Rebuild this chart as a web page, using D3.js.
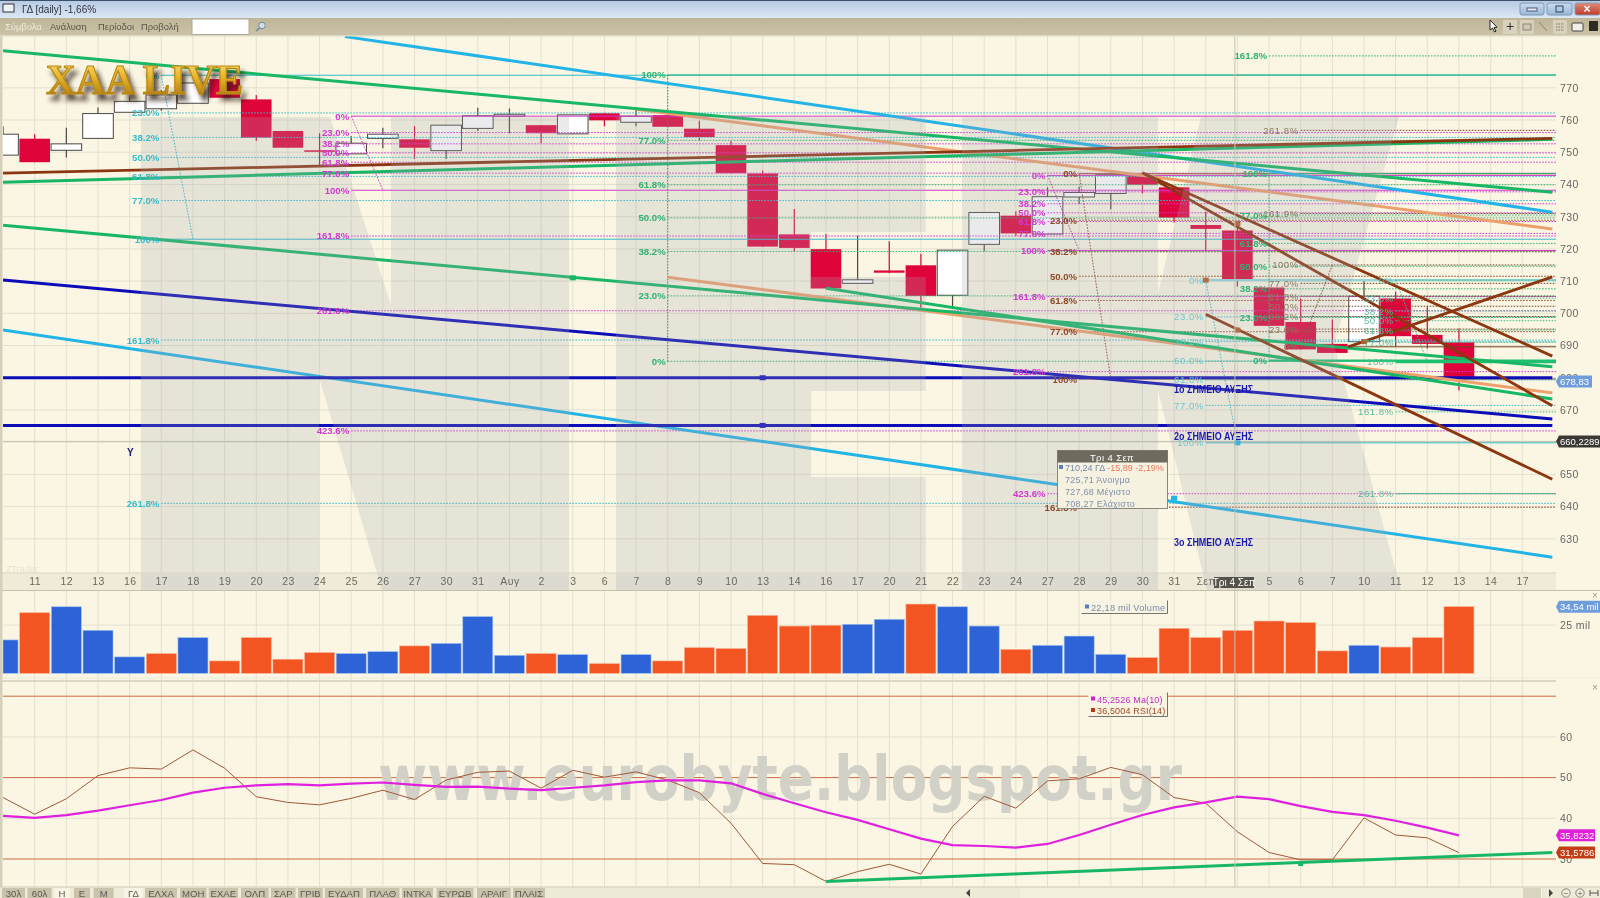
<!DOCTYPE html>
<html><head><meta charset="utf-8">
<style>html,body{margin:0;padding:0;background:#faf6e3;overflow:hidden}svg{display:block;filter:blur(0.35px)}text{font-family:"Liberation Sans",Arial,sans-serif}</style>
<script src="https://cdnjs.cloudflare.com/ajax/libs/d3/7.8.5/d3.min.js"></script>
</head><body><svg id="c" width="1600" height="898"></svg>
<script>
// ---- categories / ticks
const dateLabels=["11","12","13","16","17","18","19","20","23","24","25","26","27","30","31","Αυγ","2","3","6","7","8","9","10","13","14","16","17","20","21","22","23","24","27","28","29","30","31","Σεπ","4","5","6","7","10","11","12","13","14","17"];
const priceTicks=[770,760,750,740,730,720,710,700,690,680,670,660,650,640,630];
const rsiTicks=[60,50,40,30];
// ---- candles, first value belongs to the partial session at the left edge (index -1)
const candleOpen =[749.1,754.2,750.6,754.3,762.4,763.5,765.2,772.7,766.4,756.6,750.6,749.5,754.3,754.0,750.5,757.4,761.2,758.4,755.7,762.1,759.3,761.5,757.3,752.2,743.4,724.5,719.9,709.3,713.3,714.9,705.6,721.4,730.3,724.6,736.1,737.2,742.6,739.1,727.4,725.7,708.0,697.3,690.5,691.2,704.6,693.3,691.0];
const candleClose=[755.6,746.9,752.6,762.0,765.8,767.8,771.5,766.9,754.5,751.4,750.2,752.8,755.6,751.4,758.4,761.3,761.8,755.9,761.6,759.9,761.2,757.9,754.7,743.5,720.7,720.3,707.7,710.4,712.6,705.4,719.6,731.3,724.8,736.2,737.5,743.0,739.9,729.7,726.2,710.2,696.1,688.8,687.7,705.3,692.9,690.5,679.5];
const candleHigh =[758.1,755.6,757.6,763.9,767.2,769.3,771.5,772.7,767.8,756.6,755.9,755.0,757.6,758.1,758.4,763.8,763.6,758.4,761.6,762.1,763.6,762.3,759.8,753.5,744.3,732.4,724.6,724.1,722.4,718.5,719.6,731.3,731.7,739.1,739.3,743.0,743.4,739.1,731.5,727.7,708.0,704.6,698.1,710.3,706.7,702.0,695.3];
const candleLow  =[749.1,746.9,748.4,754.3,762.4,762.9,765.2,766.9,753.5,751.4,745.8,749.5,751.2,747.9,747.9,756.6,755.9,752.8,755.7,758.1,758.1,757.9,753.7,743.5,720.7,719.1,707.7,709.3,712.4,701.7,701.5,719.3,724.0,724.6,733.9,732.3,737.2,728.2,719.1,708.3,696.1,688.8,687.7,691.2,689.6,689.1,676.0];
// ---- volume (millions) and oscillator values
const volumeValues=[17.3,31.4,34.5,22.3,8.5,10.2,18.5,6.4,18.5,7.3,10.7,10.2,11.2,14.2,15.5,29.4,9.3,10.2,9.7,5.0,9.7,6.4,13.3,12.8,30.0,24.5,24.9,25.4,28.0,35.9,34.5,24.5,12.4,14.5,19.3,9.8,8.1,23.3,18.5,22.18,27.1,26.3,11.6,14.5,13.6,18.5,34.54];
const volumeRising=[1,0,1,1,1,0,1,0,0,0,0,1,1,0,1,1,1,0,1,0,1,0,0,0,0,0,0,1,1,0,1,1,0,1,1,1,0,0,0,0,0,0,0,1,0,0,0];
const rsiValues=[45.1,41.0,44.8,50.5,52.4,52.1,56.8,52.3,45.3,43.9,43.3,44.9,46.9,44.6,49.4,51.3,51.6,47.4,51.8,50.1,51.4,49.4,46.3,38.8,28.9,28.6,24.5,26.9,28.7,26.3,38.0,45.4,42.5,49.2,49.7,52.5,50.7,45.1,43.7,36.7,31.6,29.8,29.8,40.1,35.9,35.2,31.58];
const maValues=[40.6,40.1,40.8,41.9,43.2,44.5,46.3,47.5,48.1,48.4,48.1,48.5,48.8,48.2,47.7,47.8,47.3,46.9,47.5,48.1,48.9,49.3,49.3,48.6,46.0,43.7,41.5,39.6,37.3,35.0,33.4,33.2,32.8,33.7,35.9,38.4,40.8,42.7,43.9,45.3,44.7,43.0,41.6,40.8,39.4,37.7,35.82];
// ---- trend lines: [index1, price1, index2, price2]
const greenTrends=[[-1,781.5,47.95,737.6],[-1,740.7,47.95,754.0],[-1,727.3,47.95,683.4],[25,707.8,47.95,673.4]];
const cyanTrends=[[9.8,785.9,47.95,731.4],[-1,694.8,47.95,624.3]];
const salmonTrends=[[19,763.3,47.95,726.2],[20,711.2,47.95,675.3]];
const blueTrends=[[-1,710.3,47.95,667.2],[-1,680,47.95,680],[-1,665.2,47.95,665.2]];
const brownTrends=[[-1,743.5,47.95,754.3],[35,743.6,47.95,686.7],[35,743.6,47.95,671.3],[37,699.7,47.95,648.5],[41.5,689.6,47.95,711.3]];
const rsiTrend=[[25,24.5,47.95,31.6]];
// ---- fibonacci sets
const fibCyanL=[["0%",773.9],["23.0%",762.2],["38.2%",754.6],["50.0%",748.4],["61.8%",742.5],["77.0%",735],["100%",723],["161.8%",691.7],["261.8%",641]];
const fibMagentaL=[["0%",761.2],["23.0%",756.1],["38.2%",752.6],["50.0%",749.8],["61.8%",746.9],["77.0%",743.5],["100%",738.2],["161.8%",724],["261.8%",700.8],["423.6%",663.5]];
const fibGreenL=[["100%",774],["77.0%",753.7],["61.8%",739.9],["50.0%",729.6],["38.2%",719.2],["23.0%",705.4],["0%",685.1]];
const fibMagentaM=[["0%",742.8],["23.0%",737.7],["38.2%",734],["50.0%",731.2],["61.8%",728.5],["77.0%",724.8],["100%",719.5],["161.8%",705.2],["261.8%",681.9],["423.6%",644]];
const fibBrownM=[["0%",743.3],["23.0%",728.9],["38.2%",719.1],["50.0%",711.5],["61.8%",704],["77.0%",694.3],["100%",679.6],["161.8%",639.8]];
const fibCyanR=[["0%",710.3],["23.0%",698.9],["38.2%",691.2],["50.0%",685.2],["61.8%",679.3],["77.0%",671.4],["100%",659.8]];
const fibGreenR=[["161.8%",779.9],["100%",743.4],["77.0%",730.5],["61.8%",721.7],["50.0%",714.6],["38.2%",707.6],["23.0%",698.7],["0%",685.3]];
const fibBrownR=[["261.8%",756.8],["161.9%",731],["100%",715],["77.0%",709.3],["61.8%",705.3],["50.0%",702.2],["38.2%",699],["23.0%",695.1],["0%",689.6]];
const fibTealR=[["0%",710.3],["23.0%",704.7],["38.2%",700.7],["50.0%",697.7],["61.8%",694.8],["77.0%",691],["100%",684.9],["161.8%",669.4],["261.8%",644]];
const tabs=["30λ","60λ","Η","Ε","Μ","ΓΔ","ΕΛΧΑ","ΜΟΗ","ΕΧΑΕ","ΟΛΠ","ΣΑΡ","ΓΡΙΒ","ΕΥΔΑΠ","ΠΛΑΘ","ΙΝΤΚΑ","ΕΥΡΩΒ","ΑΡΑΙΓ","ΠΛΑΙΣ"];
const menuItems=["Σύμβολα","Ανάλυση","Περίοδοι","Προβολή"];
const signals=[["1ο ΣΗΜΕΙΟ ΑΥΞΗΣ",675.2],["2ο ΣΗΜΕΙΟ ΑΥΞΗΣ",660.8],["3ο ΣΗΜΕΙΟ ΑΥΞΗΣ",627.7]];
const tooltipRows=[["725,71 Άνοιγμα"],["727,68 Μέγιστο"],["708,27 Ελάχιστο"]];

// ---- drawing
const svg=d3.select("#c");
const defs=svg.append("defs");
const grad=(id,stops,vert=true)=>{const g=defs.append("linearGradient").attr("id",id).attr("x1",0).attr("y1",0).attr("x2",vert?0:1).attr("y2",vert?1:0);stops.forEach(s=>g.append("stop").attr("offset",s[0]).attr("stop-color",s[1]));};
grad("title",[[0,"#b4c9e2"],[1,"#dbe7f4"]]);
grad("menu",[[0,"#bfb698"],[1,"#cbc3a8"]]);
grad("gold",[[0,"#ffe88a"],[.45,"#e7b52c"],[1,"#9a6a10"]]);
grad("close",[[0,"#e08a7a"],[1,"#c03a28"]]);
grad("btn",[[0,"#c9dcef"],[1,"#98b6d6"]]);
const sh=defs.append("filter").attr("id","shadow").attr("x","-10%").attr("y","-20%").attr("width","125%").attr("height","160%");
sh.append("feDropShadow").attr("dx",4).attr("dy",6).attr("stdDeviation",2.6).attr("flood-color","#2a1c08").attr("flood-opacity",.8);
defs.append("clipPath").attr("id","pane").append("rect").attr("x",3).attr("y",36).attr("width",1553).attr("height",537);
defs.append("clipPath").attr("id","rsiPane").append("rect").attr("x",3).attr("y",682).attr("width",1553).attr("height",205);

const x=d3.scaleLinear().domain([0,47]).range([34.7,1522.25]);
const y=d3.scaleLinear().domain([630,770]).range([538.8,87.8]);
const yVol=d3.scaleLinear().domain([0,34.54]).range([673.3,606.7]);
const yRsi=d3.scaleLinear().domain([30,70]).range([859,696.2]);
const idxs=d3.range(-1,46);
const gridC="#e4e0cf";

svg.append("rect").attr("width",1600).attr("height",898).attr("fill","#faf6e3");
// panes' grid
const grid=svg.append("g").attr("stroke",gridC).attr("stroke-width",1);
dateLabels.forEach((_,i)=>{grid.append("line").attr("x1",x(i)).attr("x2",x(i)).attr("y1",36).attr("y2",887);});
priceTicks.forEach(v=>grid.append("line").attr("x1",3).attr("x2",1556).attr("y1",y(v)).attr("y2",y(v)));
grid.append("line").attr("x1",3).attr("x2",1556).attr("y1",yVol(25)).attr("y2",yVol(25));
[60,40].forEach(v=>grid.append("line").attr("x1",3).attr("x2",1556).attr("y1",yRsi(v)).attr("y2",yRsi(v)));

const main=svg.append("g").attr("clip-path","url(#pane)");
// candles
const cg=main.append("g");
idxs.forEach((i,k)=>{
  const o=candleOpen[k],c=candleClose[k],up=c>=o;
  const col=up?"#4a4844":"#d8083e";
  cg.append("line").attr("x1",x(i)).attr("x2",x(i)).attr("y1",y(candleHigh[k])).attr("y2",y(candleLow[k])).attr("stroke",col).attr("stroke-width",1.2);
  cg.append("rect").attr("x",x(i)-15.3).attr("width",30.6).attr("y",y(Math.max(o,c))).attr("height",Math.max(1.5,Math.abs(y(o)-y(c))))
    .attr("fill",up?"#ffffff":"#e0043c").attr("stroke",up?"#4a4844":"none").attr("stroke-width",1);
});
// fibonacci levels
const line=d3.line().x(d=>x(d[0])).y(d=>y(d[1]));
const fibG=main.append("g"),fibL=main.append("g");
function fib(set,anchor,color,opts={}){
  const endI=48.1;
  set.forEach(([t,v])=>{
    const solid=(opts.solid||[]).includes(t),thick=(opts.thick||[]).includes(t);
    fibG.append("line").attr("x1",x(anchor)).attr("x2",x(endI)).attr("y1",y(v)).attr("y2",y(v))
      .attr("stroke",thick?(opts.thickColor||color):color).attr("stroke-width",thick?2.4:1).attr("stroke-dasharray",solid||thick?null:"1.6,1.4");
    fibL.append("text").attr("x",x(anchor)-2).attr("y",y(v)+3.5).attr("text-anchor","end").attr("font-size",9.6).attr("font-weight",opts.light?"normal":"bold").attr("letter-spacing",opts.light?.5:0).attr("fill",opts.textColor||color).text(t);
  });
  if(opts.diag) fibG.append("path").attr("d",line(opts.diag)).attr("fill","none").attr("stroke",opts.diagColor||color).attr("stroke-width",1).attr("stroke-dasharray","1.6,1.4");
}
const val=(s,t)=>s.find(d=>d[0]===t)[1];
fib(fibCyanL,4,"#33bccb",{solid:["0%","100%"],diag:[[4,val(fibCyanL,"0%")],[5,val(fibCyanL,"100%")]]});
fib(fibMagentaL,10,"#d238cf",{solid:["0%","100%"],diag:[[10,val(fibMagentaL,"0%")],[11,val(fibMagentaL,"100%")]]});
fib(fibGreenL,20,"#2bb36f",{solid:["100%"],diag:[[20,val(fibGreenL,"100%")],[20,val(fibGreenL,"0%")]],diagColor:"#1c8f57"});
fib(fibMagentaM,32,"#d238cf",{solid:["0%","100%"],diag:[[32,val(fibMagentaM,"0%")],[33,val(fibMagentaM,"100%")]],diagColor:"#a0408a"});
fib(fibBrownM,33,"#8f4a28",{solid:["0%","100%"],diag:[[33,val(fibBrownM,"0%")],[34,val(fibBrownM,"100%")]]});
fib(fibCyanR,37,"#3cbcc6",{light:true,textColor:"#6cc8cf",thick:["0%"],thickColor:"#92d6d8",solid:["100%"],diag:[[37,val(fibCyanR,"0%")],[38,val(fibCyanR,"100%")]]});
fib(fibGreenR,39,"#2bb36f",{solid:["100%"],diag:[[39,val(fibGreenR,"100%")],[39,val(fibGreenR,"0%")]],thick:["0%"],thickColor:"#1fc070"});
fib(fibBrownR,40,"#6e4526",{light:true,textColor:"#8a7a62",solid:["0%"],diag:[[41,val(fibBrownR,"100%")],[40,val(fibBrownR,"0%")]]});
fib(fibTealR,43,"#44b98a",{light:true,textColor:"#5cb99c",thick:["100%"],thickColor:"#1fc070",solid:["261.8%"],diag:[[43,val(fibTealR,"0%")],[44,val(fibTealR,"100%")]]});
// crosshair horizontal
main.append("line").attr("x1",3).attr("x2",1556).attr("y1",y(660.23)).attr("y2",y(660.23)).attr("stroke","#c4c2b0");
// trend lines
const trend=(arr,color,w)=>arr.forEach(t=>main.append("path").attr("d",line([[t[0],t[1]],[t[2],t[3]]])).attr("stroke",color).attr("stroke-width",w).attr("fill","none"));
trend(cyanTrends,"#22b4e6",3);
trend(blueTrends,"#0c0cb8",3);
trend(salmonTrends,"#eca06c",3);
trend(greenTrends,"#17b765",3);
trend(brownTrends,"#8c3610",2.8);
// anchor markers
const marks=(arr,color)=>arr.forEach(m=>main.append("rect").attr("x",x(m[0])-3).attr("y",y(m[1])-2.5).attr("width",6).attr("height",5).attr("fill",color));
marks([[17,711]],"#17b765");marks([[23,680],[23,665.2]],"#1212bc");marks([[36,642.6],[38,659.8]],"#22b4e6");marks([[37,710.3],[38,727.9],[38,694.8],[42,691.2]],"#b0602c");
// watermark letters (semi-transparent, above the marks)
const wm=main.append("g").attr("fill","rgb(163,163,179)").attr("fill-opacity",.23);
const wmTop=117,wmBot=590;
const letters=[
 [[141,wmTop],[330,wmTop],[391,305],[391,wmTop],[569,wmTop],[569,wmBot],[382,wmBot],[319,377],[319,wmBot],[141,wmBot]],
 [[616,wmTop],[925.7,wmTop],[925.7,232],[811,232],[811,277],[925.7,277],[925.7,391],[811,391],[811,477],[925.7,477],[925.7,wmBot],[616,wmBot]],
 [[962,wmTop],[1158,wmTop],[1158,293],[1201,wmTop],[1399,wmTop],[1334,345],[1401,wmBot],[1207,wmBot],[1158,390],[1158,wmBot],[962,wmBot]]
];
wm.selectAll("path").data(letters).join("path").attr("d",d=>"M"+d.join("L")+"Z");
// fib labels go on top of candles
main.node().appendChild(fibL.node());
// signal text
signals.forEach(s=>main.append("text").attr("x",x(36)).attr("y",y(s[1])).attr("textLength",79).attr("lengthAdjust","spacingAndGlyphs").attr("font-size",10).attr("font-weight","bold").attr("fill","#1818b0").text(s[0]));
main.append("text").attr("x",127).attr("y",456).attr("font-size",10).attr("font-weight","bold").attr("fill","#1a1a70").text("Y");
main.append("text").attr("x",6).attr("y",572).attr("font-size",9).attr("fill","#e6e2cf").text("ZTrader");

// date band
const band=svg.append("g");
band.append("rect").attr("x",0).attr("y",573).attr("width",1556).attr("height",17).attr("fill","#efebd8");
const wmBand=band.append("g").attr("fill","rgb(163,163,179)").attr("fill-opacity",.23);
const bandClip=defs.append("clipPath").attr("id","band");bandClip.append("rect").attr("x",0).attr("y",573).attr("width",1556).attr("height",17);
wmBand.attr("clip-path","url(#band)").selectAll("path").data(letters).join("path").attr("d",d=>"M"+d.join("L")+"Z");
band.append("line").attr("x1",0).attr("x2",1556).attr("y1",573).attr("y2",573).attr("stroke","#dad6c4");
band.append("line").attr("x1",0).attr("x2",1600).attr("y1",590.5).attr("y2",590.5).attr("stroke","#c4c0ac");
const ax=svg.append("g").attr("transform","translate(0,576)").call(d3.axisBottom(x).tickValues(d3.range(0,48)).tickSize(0).tickFormat(i=>dateLabels[i]));
ax.select(".domain").remove();
ax.selectAll("text").attr("font-size",10.5).attr("letter-spacing",.4).attr("fill","#6c6a60").attr("font-family","Liberation Sans").attr("dy","0.55em");

// volume
const vg=svg.append("g");
idxs.forEach((i,k)=>vg.append("rect").attr("x",Math.max(x(i)-15,3)).attr("width",i<0?x(i)+15-3:30).attr("y",yVol(volumeValues[k])).attr("height",yVol(0)-yVol(volumeValues[k]))
  .attr("fill",volumeRising[k]?"#2d63d6":"#f25522").attr("stroke",volumeRising[k]?"#9cc0f0":"#f8b090").attr("stroke-width",.6));
svg.append("line").attr("x1",0).attr("x2",1600).attr("y1",678).attr("y2",678).attr("stroke","#eeeada");
svg.append("line").attr("x1",0).attr("x2",1556).attr("y1",681).attr("y2",681).attr("stroke","#cfccba").attr("stroke-width",1.5);

// rsi
[70,50,30].forEach(v=>svg.append("line").attr("x1",3).attr("x2",1556).attr("y1",yRsi(v)).attr("y2",yRsi(v)).attr("stroke","#cc6a44"));
svg.append("text").attr("x",378).attr("y",800).attr("textLength",804).attr("lengthAdjust","spacingAndGlyphs").attr("font-size",62).attr("font-weight","bold").attr("fill","#d2d1c7").style("font-family","DejaVu Sans").text("www.eurobyte.blogspot.gr");
const rl=d3.line().x(d=>x(d[0])).y(d=>yRsi(d[1]));
const rg=svg.append("g").attr("clip-path","url(#rsiPane)");
rg.append("path").attr("d",rl(rsiValues.map((v,k)=>[idxs[k],v]))).attr("fill","none").attr("stroke","#a0583a").attr("stroke-width",1);
rg.append("path").attr("d",rl(maValues.map((v,k)=>[idxs[k],v]))).attr("fill","none").attr("stroke","#df20df").attr("stroke-width",2.2);
rsiTrend.forEach(t=>rg.append("path").attr("d",rl([[t[0],t[1]],[t[2],t[3]]])).attr("fill","none").attr("stroke","#17b765").attr("stroke-width",3));
rg.append("rect").attr("x",x(40)-2.5).attr("y",yRsi(29)-2).attr("width",5).attr("height",5).attr("fill","#17b765");

// crosshair vertical + date tag
svg.append("line").attr("x1",x(38)-2.5).attr("x2",x(38)-2.5).attr("y1",37).attr("y2",887).attr("stroke","#c4c2b0");
svg.append("rect").attr("x",1214).attr("y",577).attr("width",40).attr("height",11).attr("fill","#55524a");
svg.append("text").attr("x",1234).attr("y",586).attr("text-anchor","middle").attr("font-size",10).attr("fill","#fff").text("Τρι 4 Σεπ");

// right axes
const rightAxis=(scale,ticks,fmt)=>{const g=svg.append("g").attr("transform","translate(1556,0)").call(d3.axisRight(scale).tickValues(ticks).tickSize(0).tickFormat(fmt));g.select(".domain").remove();g.selectAll("text").attr("font-size",10.5).attr("letter-spacing",.4).attr("fill","#666").attr("font-family","Liberation Sans").attr("x",4);};
rightAxis(y,priceTicks,d=>d);
rightAxis(yRsi,rsiTicks,d=>d);
rightAxis(yVol,[25],d=>d+" mil");
const tag=(t,yy,fill,w=41)=>{svg.append("path").attr("d",`M1556 ${yy}L1559 ${yy-6}H${1559+w}V${yy+6}H1559Z`).attr("fill",fill);svg.append("text").attr("x",1560).attr("y",yy+3.4).attr("font-size",9.5).attr("fill","#fff").text(t);};
tag("678,83",y(678.83),"#6f9ddc",33);tag("660,2289",y(660.23),"#3a3833");tag("34,54 mil",yVol(34.54),"#6f9ddc");tag("35,8232",yRsi(35.82),"#e020d8",36);tag("31,5786",yRsi(31.58),"#c43c14",36);
svg.append("text").attr("x",1595).attr("y",599).attr("text-anchor","middle").attr("font-size",10).attr("fill","#999").text("×");
svg.append("text").attr("x",1595).attr("y",691).attr("text-anchor","middle").attr("font-size",10).attr("fill","#999").text("×");

// tooltip
const tip=svg.append("g");
tip.append("rect").attr("x",1057.5).attr("y",450.5).attr("width",110).attr("height",58).attr("fill","#f6f2e2").attr("stroke","#8a8678");
tip.append("rect").attr("x",1057.5).attr("y",450.5).attr("width",110).attr("height",12).attr("fill","#6d6a5e");
tip.append("text").attr("x",1112).attr("y",460.5).attr("text-anchor","middle").attr("font-size",9.5).attr("letter-spacing",.4).attr("fill","#fff").text("Τρι 4 Σεπ");
tip.append("rect").attr("x",1059).attr("y",465).attr("width",4).attr("height",4).attr("fill","#5a7cc0");
const t0=tip.append("text").attr("x",1065).attr("y",470.5).attr("font-size",9).attr("fill","#7488a8");t0.append("tspan").text("710,24 ΓΔ ");t0.append("tspan").attr("fill","#e8785a").text("-15,89 -2,19%");
tooltipRows.forEach((r,k)=>tip.append("text").attr("x",1065).attr("y",482.5+k*12).attr("font-size",9).attr("letter-spacing",.25).attr("fill","#8090aa").text(r[0]));
// legends
const leg=svg.append("g");
leg.append("rect").attr("x",1081.5).attr("y",600.5).attr("width",86).attr("height",13).attr("fill","#f8f4e3");
leg.append("path").attr("d","M1081.5 613.5H1167.5V600.5").attr("fill","none").attr("stroke","#77746a");
leg.append("rect").attr("x",1085).attr("y",604.5).attr("width",4).attr("height",4).attr("fill","#5a7cc0");
leg.append("text").attr("x",1091).attr("y",610.5).attr("font-size",9.2).attr("letter-spacing",.25).attr("fill","#7a8aa8").text("22,18 mil Volume");
leg.append("rect").attr("x",1088.5).attr("y",692.5).attr("width",79).attr("height",24).attr("fill","#f8f4e3");
leg.append("path").attr("d","M1088.5 716.5H1167.5V692.5").attr("fill","none").attr("stroke","#77746a");
leg.append("rect").attr("x",1091).attr("y",696.5).attr("width",4).attr("height",4).attr("fill","#d020d0");
leg.append("text").attr("x",1097).attr("y",702.5).attr("font-size",9).attr("letter-spacing",.15).attr("fill","#c02cc0").text("45,2526 Ma(10)");
leg.append("rect").attr("x",1091).attr("y",708).attr("width",4).attr("height",4).attr("fill","#b03a10");
leg.append("text").attr("x",1097).attr("y",714).attr("font-size",9).attr("letter-spacing",.15).attr("fill","#a04a24").text("36,5004 RSI(14)");

// logo
svg.append("text").attr("x",46).attr("y",94).attr("textLength",197).attr("lengthAdjust","spacingAndGlyphs").attr("font-size",43).attr("font-weight","bold").attr("fill","url(#gold)").attr("stroke","#b8860f").attr("stroke-width",1.2).attr("filter","url(#shadow)").style("font-family","Liberation Serif").text("XAA LIVE");

// window chrome
svg.append("rect").attr("width",1600).attr("height",18).attr("fill","url(#title)");
svg.append("rect").attr("width",1600).attr("height",1).attr("fill","#3c5068");
svg.append("rect").attr("x",3).attr("y",4).attr("width",11).attr("height",8).attr("fill","#eef3f8").attr("stroke","#333");
svg.append("text").attr("x",22).attr("y",13).attr("font-size",10).attr("fill","#334").text("ΓΔ [daily] -1,66%");
svg.append("rect").attr("y",18).attr("width",1600).attr("height",18).attr("fill","url(#menu)");
svg.append("rect").attr("y",35).attr("width",1600).attr("height",1.5).attr("fill","#dcd8c6");
const mx=[5,50,98,141];
menuItems.forEach((m,k)=>svg.append("text").attr("x",mx[k]).attr("y",30).attr("font-size",9.4).attr("fill",k==0?"#efeadb":"#5a5648").text(m));
svg.append("rect").attr("x",192).attr("y",19).attr("width",57).attr("height",15.5).attr("fill","#fff").attr("stroke","#b0aa92");
svg.append("circle").attr("cx",262).attr("cy",25.5).attr("r",3.3).attr("fill","#cfe0ea").attr("stroke","#6e8a9c");
svg.append("line").attr("x1",259.5).attr("y1",28).attr("x2",256).attr("y2",31).attr("stroke","#6e8a9c").attr("stroke-width",1.5);
[[1520,24,"url(#btn)"],[1547,25,"url(#btn)"],[1575,25,"url(#close)"]].forEach(b=>svg.append("rect").attr("x",b[0]).attr("y",3).attr("width",b[1]).attr("height",12).attr("rx",2).attr("fill",b[2]).attr("stroke","#7e9ab8"));
svg.append("rect").attr("x",1527).attr("y",8).attr("width",10).attr("height",3).attr("fill","#e6eef6").attr("stroke","#557");
svg.append("rect").attr("x",1556).attr("y",6).attr("width",7).attr("height",6).attr("fill","none").attr("stroke","#345");
svg.append("text").attr("x",1587).attr("y",13).attr("text-anchor","middle").attr("font-size",12).attr("font-weight","bold").attr("fill","#fff").text("×");
svg.append("rect").attr("x",1503).attr("y",20).attr("width",14).attr("height",14).attr("fill","#d8d2bc");
svg.append("text").attr("x",1510).attr("y",31).attr("text-anchor","middle").attr("font-size",14).attr("fill","#333").text("+");
svg.append("rect").attr("x",1520).attr("y",20).attr("width",14).attr("height",14).attr("fill","#d8d2bc");
svg.append("rect").attr("x",1523).attr("y",24).attr("width",8).attr("height",6).attr("fill","#cfc9b4").attr("stroke","#8a8678");
svg.append("line").attr("x1",1539).attr("y1",22).attr("x2",1547).attr("y2",31).attr("stroke","#8a8678");
svg.append("rect").attr("x",1553).attr("y",20).attr("width",14).attr("height",14).attr("fill","#d8d2bc");
[24,27,30].forEach(v=>svg.append("line").attr("x1",1556).attr("x2",1564).attr("y1",v).attr("y2",v).attr("stroke","#7a7568").attr("stroke-dasharray","1.5,1"));
svg.append("rect").attr("x",1572).attr("y",23).attr("width",11).attr("height",8).attr("rx",1).attr("fill","#f2f0e6").attr("stroke","#444");
svg.append("rect").attr("x",1589).attr("y",21).attr("width",9).attr("height",10).attr("fill","#2c2c24");
svg.append("path").attr("d","M1448 20l0 10 2.5-2 2 4 1.5-.8-2-3.7 3-.3z").attr("fill","#fff").attr("stroke","#222").attr("transform","translate(42,0)");
svg.append("rect").attr("x",0).attr("y",36).attr("width",2.5).attr("height",851).attr("fill","#d6d0ba");

// bottom tabs
svg.append("rect").attr("y",887).attr("width",1600).attr("height",11).attr("fill","#eeead8");
svg.append("line").attr("x1",0).attr("x2",1600).attr("y1",887).attr("y2",887).attr("stroke","#cfcbb8");
const tabX=[[2,25],[27.5,51.6],[54,70],[74,90],[93.7,113.6],[124,143],[145,177],[180,206.6],[208.7,238],[241,268.6],[271,295.5],[298,322.7],[325,363],[366,399.5],[402,433],[436.6,473.5],[477,510.7],[513,545]];
tabs.forEach((t,k)=>{const b=tabX[k],active=k==2||k==5;
 svg.append("rect").attr("x",b[0]).attr("y",888).attr("width",b[1]-b[0]).attr("height",10).attr("fill",active?"#f8f4e4":"#c9c3ac");
 svg.append("text").attr("x",(b[0]+b[1])/2).attr("y",897).attr("text-anchor","middle").attr("font-size",9.6).attr("fill","#5a5850").text(t);});
svg.append("rect").attr("x",1020).attr("y",888).attr("width",522).attr("height",10).attr("fill","#f4f0df");
svg.append("rect").attr("x",1523).attr("y",888).attr("width",18).attr("height",10).attr("fill","#dad5c0");
svg.append("path").attr("d","M970 889v8l-4-4z").attr("fill","#444");
svg.append("path").attr("d","M1549 889v8l4-4z").attr("fill","#444");
[1566,1580].forEach((c,k)=>{svg.append("circle").attr("cx",c).attr("cy",893).attr("r",4.2).attr("fill","#eee9d8").attr("stroke","#8a8a80");svg.append("text").attr("x",c).attr("y",896).attr("text-anchor","middle").attr("font-size",8).attr("fill","#555").text(k?"+":"−");});
svg.append("path").attr("d","M1590 890v6M1598 890v6M1590 893H1598").attr("stroke","#555").attr("fill","none");
</script></body></html>
